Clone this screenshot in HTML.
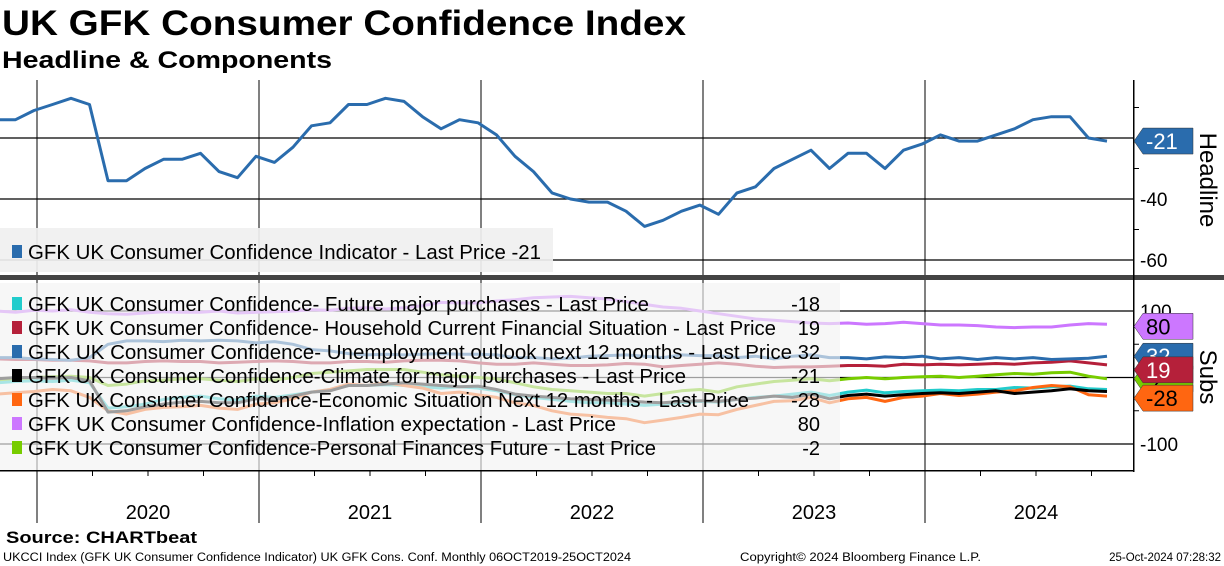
<!DOCTYPE html>
<html><head><meta charset="utf-8">
<style>
body{margin:0;background:#fff;width:1224px;height:566px;overflow:hidden;font-family:"Liberation Sans",sans-serif}
svg{position:absolute;left:0;top:0}
</style></head><body>
<svg id="chart" width="1224" height="566">
<text x="2" y="35" font-size="35" font-weight="bold" textLength="684" lengthAdjust="spacingAndGlyphs">UK GFK Consumer Confidence Index</text>
<text x="2" y="68" font-size="24" font-weight="bold" textLength="330" lengthAdjust="spacingAndGlyphs">Headline &amp; Components</text>
<g id="grid"></g>
<g id="lines"></g>
<g id="legends"></g>
<g id="axes"></g>
<text x="6" y="543" font-size="17" font-weight="bold" textLength="191" lengthAdjust="spacingAndGlyphs">Source: CHARTbeat</text>
<text x="3" y="561" font-size="11.5" textLength="628" lengthAdjust="spacingAndGlyphs">UKCCI Index (GFK UK Consumer Confidence Indicator) UK GFK Cons. Conf.  Monthly 06OCT2019-25OCT2024</text>
<text x="740" y="561" font-size="11.5" textLength="241" lengthAdjust="spacingAndGlyphs">Copyright© 2024 Bloomberg Finance L.P.</text>
<text x="1221" y="561" font-size="11.5" text-anchor="end">25-Oct-2024 07:28:32</text>
</svg>
<script>
const years=["2020","2021","2022","2023","2024"];
const headline=[-14,-14,-11,-9,-7,-9,-34,-34,-30,-27,-27,-25,-31,-33,-26,-28,-23,-16,-15,-9,-9,-7,-8,-13,-17,-14,-15,-19,-26,-31,-38,-40,-41,-41,-44,-49,-47,-44,-42,-45,-38,-36,-30,-27,-24,-30,-25,-25,-30,-24,-22,-19,-21,-21,-19,-17,-14,-13,-13,-20,-21];
const futureMajor=[-8,-6,-5,-6,-4,-8,-46,-44,-40,-33,-30,-28,-32,-34,-28,-30,-26,-22,-18,-12,-12,-11,-12,-14,-16,-14,-16,-20,-26,-30,-33,-36,-38,-38,-40,-42,-40,-38,-36,-37,-33,-30,-28,-25,-22,-27,-22,-19,-23,-21,-20,-19,-20,-18,-18,-15,-16,-14,-13,-17,-18];
const household=[28,27,27,26,26,25,22,22,24,25,24,24,22,23,24,25,24,22,22,24,24,23,25,26,26,25,22,20,20,22,20,18,18,19,21,20,16,18,20,22,20,17,15,16,16,17,18,18,17,20,19,20,19,20,21,20,22,23,25,22,19];
const unemployment=[30,30,28,27,26,30,50,55,55,54,56,55,56,55,52,54,50,42,40,36,34,35,34,35,36,35,35,34,30,30,28,29,32,33,34,32,30,34,33,33,30,32,28,32,34,30,30,28,31,30,32,28,30,27,30,28,30,27,28,29,32];
const climate=[-2,0,0,-1,0,-5,-52,-50,-44,-40,-37,-36,-38,-38,-32,-33,-28,-22,-20,-12,-12,-10,-8,-10,-12,-14,-13,-18,-25,-28,-30,-32,-33,-34,-35,-37,-38,-36,-35,-36,-33,-31,-28,-30,-25,-32,-27,-25,-28,-26,-24,-23,-24,-22,-20,-24,-22,-20,-17,-20,-21];
const economic=[-25,-23,-21,-18,-20,-30,-50,-55,-48,-45,-44,-42,-46,-48,-40,-38,-32,-22,-18,-10,-12,-8,-12,-16,-24,-22,-26,-30,-38,-42,-50,-55,-57,-60,-62,-68,-64,-60,-55,-56,-48,-42,-36,-35,-30,-38,-32,-30,-36,-30,-28,-24,-27,-25,-22,-20,-15,-12,-14,-26,-28];
const inflation=[100,98,101,100,102,98,96,95,97,99,98,98,100,97,98,99,100,102,101,104,105,103,105,108,113,112,112,115,117,120,121,122,120,118,114,110,106,104,100,96,92,88,86,84,82,81,82,80,81,83,81,79,79,78,76,75,76,76,79,81,80];
const personal=[-4,-2,0,1,2,0,-12,-10,-5,-4,-2,-2,-4,-6,-2,-4,0,6,8,10,12,12,12,8,4,2,0,-2,-8,-14,-18,-20,-22,-24,-24,-28,-24,-20,-18,-22,-14,-10,-6,-4,-2,-5,-2,0,-2,0,1,2,0,2,4,6,5,7,8,2,-2];
const headTicks=[-20,-40,-60];
const subTicks=[100,0,-100];

const NS="http://www.w3.org/2000/svg";
function mk(tag,attrs,parent){const e=document.createElementNS(NS,tag);for(const k in attrs)e.setAttribute(k,attrs[k]);parent.appendChild(e);return e;}
const xOf=i=>-3+18.5*i;
const yearX=j=>37+222*j;
const yTop=v=>138+(-20-v)*3.05;
const yBot=v=>377.5-v*0.665;
const grid=document.getElementById('grid'),lines=document.getElementById('lines'),leg=document.getElementById('legends'),axes=document.getElementById('axes');

years.forEach((y,j)=>{
  const l=mk('line',{x1:yearX(j),x2:yearX(j),y1:80,y2:523,stroke:'#000','stroke-width':1},grid);
  
  
  const t=mk('text',{x:yearX(j)+111,y:519,'font-size':20,'text-anchor':'middle'},axes);t.textContent=y;
  
  
});
for(let q=-1;q<21;q++){const x=37+55.5*q;if(x>0&&x<1133){mk('line',{x1:x,x2:x,y1:470,y2:476,stroke:'#000'},axes);}}
headTicks.forEach(v=>{
  const l=mk('line',{x1:0,x2:1133,y1:yTop(v),y2:yTop(v),stroke:'#000','stroke-width':1.3},grid);
  
  
  if(v!==-20){const t=mk('text',{x:1140,y:yTop(v)+7,'font-size':19},axes);t.textContent=v;
  
  }
});
subTicks.forEach(v=>{
  const l=mk('line',{x1:0,x2:1133,y1:yBot(v),y2:yBot(v),stroke:'#000','stroke-width':1.3},grid);
  
  
  const t=mk('text',{x:1140,y:yBot(v)+7,'font-size':19},axes);t.textContent=v;
  
  
});
[-10,-30,-50].forEach(v=>mk('line',{x1:1133,x2:1139,y1:yTop(v),y2:yTop(v),stroke:'#000'},axes));
[50,-50].forEach(v=>mk('line',{x1:1133,x2:1139,y1:yBot(v),y2:yBot(v),stroke:'#000'},axes));

function path(data,yf,color,name,w){
  const d=data.map((v,i)=>(i?'L':'M')+xOf(i).toFixed(1)+','+yf(v).toFixed(1)).join('');
  const p=mk('path',{d:d,fill:'none',stroke:color,'stroke-width':w||3,'stroke-linejoin':'round'},lines);
  
  
}
path(headline,yTop,'#2a6cad','headline-line');
const subs=[
 [futureMajor,'#22cccc','future-major-purchases-line','GFK UK Consumer Confidence- Future major purchases - Last Price','-18',621],
 [household,'#b5203a','household-financial-line','GFK UK Consumer Confidence- Household Current Financial Situation - Last Price','19',748],
 [unemployment,'#2a6cad','unemployment-outlook-line','GFK UK Consumer Confidence- Unemployment outlook next 12 months - Last Price','32',764],
 [climate,'#000000','climate-major-purchases-line','GFK UK Consumer Confidence-Climate for major purchases - Last Price','-21',658],
 [economic,'#ff6611','economic-situation-line','GFK UK Consumer Confidence-Economic Situation Next 12 months - Last Price','-28',721],
 [inflation,'#cc77ff','inflation-expectation-line','GFK UK Consumer Confidence-Inflation expectation - Last Price','80',588],
 [personal,'#77cc00','personal-finances-line','GFK UK Consumer Confidence-Personal Finances Future - Last Price','-2',628]];
[5,1,2,6,0,4,3].forEach(k=>path(subs[k][0],yBot,subs[k][1],subs[k][2]));

mk('rect',{x:0,y:275,width:1224,height:5,fill:'#444'},axes);
mk('rect',{x:1133,y:80,width:1.5,height:392,fill:'#000'},axes);
mk('rect',{x:0,y:470,width:1134,height:1.5,fill:'#000'},axes);

const lg1=mk('rect',{x:0,y:228,width:553,height:44,fill:'#f0f0f0','fill-opacity':0.92},leg);


mk('rect',{x:12,y:245,width:10,height:13,fill:'#2a6cad'},leg);
const tl=mk('text',{x:28,y:259,'font-size':20,textLength:513,lengthAdjust:'spacingAndGlyphs'},leg);tl.textContent='GFK UK Consumer Confidence Indicator - Last Price -21';


const lg2=mk('rect',{x:0,y:283,width:840,height:187,fill:'#f2f2f2','fill-opacity':0.65},leg);


subs.forEach((s,i)=>{
  const y=311+24*i;
  mk('rect',{x:12,y:y-14,width:10,height:13,fill:s[1]},leg);
  const t=mk('text',{x:28,y:y,'font-size':20,textLength:s[5],lengthAdjust:'spacingAndGlyphs'},leg);t.textContent=s[3];
  
  
  const v=mk('text',{x:820,y:y,'font-size':20,'text-anchor':'end'},leg);v.textContent=s[4];
});
function tag(yc,color,txt,txtColor,name){
  const g=mk('g',{},axes);
  
  
  mk('path',{d:`M1134,${yc} L1143,${yc-13} L1193,${yc-13} L1193,${yc+13} L1143,${yc+13} Z`,fill:color,stroke:'#333','stroke-width':0.5},g);
  const t=mk('text',{x:1146,y:yc+8,'font-size':22,fill:txtColor},g);t.textContent=txt;
}
tag(yTop(headline[headline.length-1]),'#2a6cad','-21','#fff','headline-value-tag');
tag(yBot(inflation[inflation.length-1])+2,'#cc77ff','80','#000','inflation-value-tag');
tag(yBot(unemployment[unemployment.length-1]),'#2a6cad','32','#fff','unemployment-value-tag');
tag(yBot(-2),'#77cc00','-2','#000','personal-finances-value-tag');
tag(yBot(-28)+2,'#ff6611','-28','#000','economic-value-tag');
tag(yBot(household[household.length-1])+5,'#b5203a','19','#fff','household-value-tag');
const h=mk('text',{x:1200,y:180,'font-size':24,transform:'rotate(90 1200 180)','text-anchor':'middle'},axes);h.textContent='Headline';


const s2=mk('text',{x:1200,y:377,'font-size':24,transform:'rotate(90 1200 377)','text-anchor':'middle'},axes);s2.textContent='Subs';


</script>
</body></html>
